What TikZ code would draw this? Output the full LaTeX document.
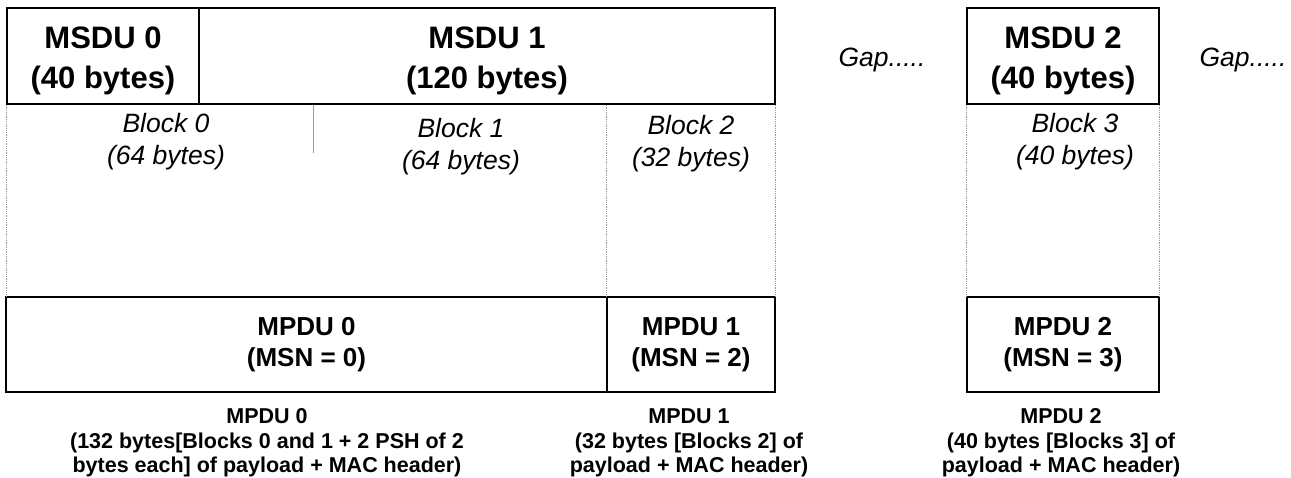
\documentclass[tikz,border=0pt]{standalone}
\usepackage{fontspec}
\setmainfont{Liberation Sans}

\begin{document}
\begin{tikzpicture}[x=1pt,y=-1pt,
    pdu/.style={draw=black, line width=1.6pt, inner sep=0pt, align=center},
    msdu/.style={pdu, minimum height=96pt},
    msdutxt/.style={align=center, inner sep=0pt, font=\fontsize{31}{40}\selectfont\bfseries},
    mpdu/.style={pdu, minimum height=95pt, font=\fontsize{26}{31}\selectfont\bfseries},
    blk/.style={align=center, inner sep=0pt, font=\fontsize{26.5}{32}\selectfont\itshape},
    pducap/.style={align=center, inner sep=0pt, font=\fontsize{21.5}{24.5}\selectfont\bfseries},
    colline/.style={draw=gray!80, line width=0.8pt, dash pattern=on 1pt off 0.8pt}]
    \useasboundingbox (0,0) rectangle (1291,478);
    \node [msdu, minimum width=192pt] (msdu0) at (103,56) {};
    \node [msdu, minimum width=576pt] (msdu1) at (487,56) {};
    \node [msdu, minimum width=192pt] (msdu2) at (1063,56) {};
    \node [msdutxt] (msdu0txt) at ([yshift=-5pt]msdu0.center) {MSDU 0\\(40 bytes)};
    \node [msdutxt] (msdu1txt) at ([yshift=-5pt]msdu1.center) {MSDU 1\\(120 bytes)};
    \node [msdutxt] (msdu2txt) at ([yshift=-5pt]msdu2.center) {MSDU 2\\(40 bytes)};
    \node [blk] (gap1) at (882,60) {Gap.....};
    \node [blk] (gap2) at (1243,60) {Gap.....};
    \node [mpdu, minimum width=601pt] (mpdu0) at (306.5,344.5) {MPDU 0\\(MSN = 0)};
    \node [mpdu, minimum width=168pt] (mpdu1) at (691,344.5) {MPDU 1\\(MSN = 2)};
    \node [mpdu, minimum width=192pt] (mpdu2) at (1063,344.5) {MPDU 2\\(MSN = 3)};
    \node [blk] (blk0) at (166,142) {Block 0\\(64 bytes)};
    \node [blk] (blk1) at (461,147) {Block 1\\(64 bytes)};
    \node [blk] (blk2) at (691,144) {Block 2\\(32 bytes)};
    \node [blk] (blk3) at (1075,142) {Block 3\\(40 bytes)};
    \coordinate (cut) at (313,153);
    \draw [colline] (msdu0.south west) -- (msdu0.south west |- mpdu0.north);
    \draw [colline] (mpdu1.north west |- msdu1.south) -- (mpdu1.north west);
    \draw [colline] (msdu1.south east) -- (mpdu1.north east);
    \draw [colline] (msdu2.south west) -- (mpdu2.north west);
    \draw [colline] (msdu2.south east) -- (mpdu2.north east);
    \draw [draw=gray!80, line width=0.8pt] (cut |- msdu1.south) -- (cut);
    \node [pducap] (cap0) at (267,443) {MPDU 0\\(132 bytes[Blocks 0 and 1 + 2 PSH of 2\\bytes each] of payload + MAC header)};
    \node [pducap] (cap1) at (689,443) {MPDU 1\\(32 bytes [Blocks 2] of\\payload + MAC header)};
    \node [pducap] (cap2) at (1061,443) {MPDU 2\\(40 bytes [Blocks 3] of\\payload + MAC header)};
\end{tikzpicture}
\end{document}
